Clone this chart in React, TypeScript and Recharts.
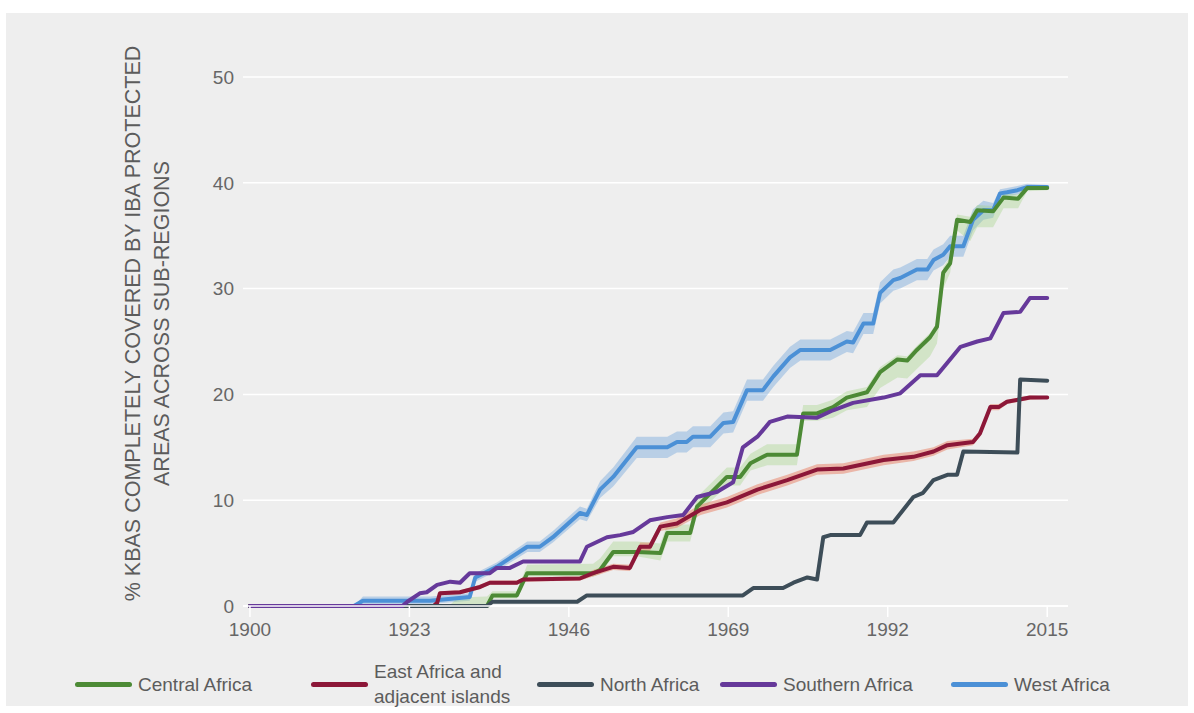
import React from 'react';
import { ComposedChart, Line, Area, XAxis, YAxis, CartesianGrid } from 'recharts';

// [year, value, band low, band high]
type BandPoint = [number, number, number, number];
type Point = [number, number];

const xTicks = [1900, 1923, 1946, 1969, 1992, 2015];
const yTicks = [0, 10, 20, 30, 40, 50];

const westAfrica: BandPoint[] = [
  [1900, 0, 0, 0], [1915, 0, 0, 0], [1916.3, 0.5, 0.2, 0.9], [1926, 0.5, 0.2, 0.9],
  [1931.7, 0.85, 0.5, 1.2], [1932.5, 2.7, 2.3, 3.1], [1935.6, 3.7, 3.3, 4.1], [1940, 5.6, 5.1, 6.1],
  [1941.8, 5.6, 5.1, 6.1], [1943.7, 6.5, 6.0, 7.1], [1947.6, 8.8, 8.2, 9.4], [1948.6, 8.6, 8.0, 9.2],
  [1950.5, 11, 10.2, 11.8], [1952.4, 12.2, 11.3, 13.1], [1955.8, 15.0, 14.0, 16.0], [1960.2, 15.0, 14.0, 16.0],
  [1961.6, 15.5, 14.5, 16.5], [1963, 15.5, 14.5, 16.5], [1963.9, 16.0, 15.0, 17.0], [1966.4, 16.0, 15.0, 17.0],
  [1968.3, 17.3, 16.3, 18.3], [1969.7, 17.4, 16.4, 18.4], [1971.7, 20.4, 19.4, 21.4], [1974, 20.4, 19.4, 21.4],
  [1975.5, 21.7, 20.7, 22.7], [1977.9, 23.5, 22.5, 24.5], [1979.4, 24.2, 23.2, 25.2], [1983.7, 24.2, 23.2, 25.2],
  [1986.1, 25.0, 24.0, 26.0], [1987, 24.9, 23.9, 25.9], [1988.5, 26.7, 25.7, 27.7], [1989.9, 26.7, 25.7, 27.7],
  [1990.9, 29.6, 28.6, 30.6], [1992.8, 30.8, 29.8, 31.8], [1993.8, 31.0, 30.0, 32.0], [1996.2, 31.8, 30.8, 32.8],
  [1997.7, 31.8, 30.8, 32.8], [1998.6, 32.7, 31.7, 33.7], [2000, 33.2, 32.2, 34.2], [2001, 34.0, 33.0, 35.0],
  [2002.9, 34.0, 33.0, 35.0], [2004.3, 36.5, 35.5, 37.5], [2005.8, 37.4, 36.5, 38.3], [2007.2, 37.4, 36.7, 38.1],
  [2008.2, 39.0, 38.6, 39.4], [2009.2, 39.1, 38.7, 39.5], [2010.7, 39.3, 38.9, 39.7], [2012.1, 39.6, 39.3, 39.9],
  [2015, 39.6, 39.4, 39.8],
];

const centralAfrica: BandPoint[] = [
  [1900, 0, 0, 0], [1929, 0, 0, 0.2], [1930, 0, 0, 0.8], [1934.2, 0, 0, 0.9], [1935, 1.0, 0.7, 1.4],
  [1938.5, 1.0, 0.7, 1.4], [1940, 3.1, 2.8, 3.9], [1949.5, 3.1, 2.8, 4.0], [1950.5, 3.4, 3.0, 4.5],
  [1952.4, 5.1, 4.7, 6.1], [1955.8, 5.1, 4.7, 6.1], [1959.2, 5.0, 4.3, 5.9], [1960.2, 6.9, 6.1, 7.7],
  [1963.5, 6.9, 6.1, 7.7], [1964.5, 9.4, 8.6, 10.3], [1968.8, 12.2, 11.4, 13.1], [1970.7, 12.2, 11.4, 13.1],
  [1972.2, 13.5, 12.8, 14.4], [1974.6, 14.3, 13.3, 15.3], [1978.9, 14.3, 13.3, 15.3], [1979.8, 18.2, 17.5, 19.0],
  [1981.8, 18.2, 17.5, 19.0], [1984.1, 18.8, 17.8, 19.5], [1986.1, 19.7, 18.5, 20.3], [1989, 20.2, 18.8, 20.7],
  [1990.9, 22.1, 20.6, 22.6], [1993.4, 23.3, 21.6, 23.7], [1994.8, 23.2, 21.5, 23.6], [1996.2, 24.2, 22.4, 24.6],
  [1998.1, 25.4, 23.6, 25.8], [1999.1, 26.4, 24.8, 26.8], [2000, 31.5, 30.0, 32.0], [2001, 32.4, 31.5, 33.0],
  [2002, 36.5, 35.5, 37.0], [2003.9, 36.3, 34.5, 36.8], [2004.9, 37.4, 35.8, 37.9], [2007.2, 37.3, 35.8, 37.8],
  [2008.7, 38.6, 37.6, 39.0], [2010.8, 38.5, 37.6, 38.9], [2012.1, 39.5, 39.2, 39.8], [2015, 39.5, 39.3, 39.7],
];

const eastAfrica: BandPoint[] = [
  [1900, 0, 0, 0], [1926.5, 0, 0, 0], [1927, 0.3, 0.1, 0.5], [1927.4, 1.2, 1.0, 1.4], [1930.3, 1.3, 1.1, 1.5],
  [1933.2, 1.8, 1.6, 2.0], [1934.6, 2.2, 2.0, 2.4], [1938.5, 2.2, 2.0, 2.4], [1939.4, 2.5, 2.3, 2.7],
  [1947.6, 2.6, 2.4, 2.8], [1949.5, 3.1, 2.8, 3.4], [1952.4, 3.7, 3.4, 4.0], [1954.8, 3.6, 3.3, 3.9],
  [1956.3, 5.6, 5.2, 6.0], [1957.7, 5.6, 5.2, 6.0], [1959.2, 7.5, 7.1, 7.9], [1961.6, 7.8, 7.4, 8.3],
  [1965, 9.1, 8.6, 9.6], [1968.8, 9.8, 9.3, 10.3], [1973.2, 11.0, 10.5, 11.5], [1977.5, 11.9, 11.4, 12.4],
  [1981.8, 12.9, 12.4, 13.4], [1985.6, 13.0, 12.5, 13.5], [1991.4, 13.8, 13.3, 14.3], [1995.7, 14.1, 13.7, 14.6],
  [1998.6, 14.6, 14.2, 15.0], [2000.6, 15.2, 14.8, 15.6], [2004.3, 15.5, 15.2, 15.8], [2005.3, 16.3, 16.0, 16.6],
  [2006.8, 18.8, 18.5, 19.1], [2008, 18.8, 18.5, 19.1], [2009.2, 19.3, 19.1, 19.5], [2012.5, 19.7, 19.5, 19.9],
  [2015, 19.7, 19.6, 19.8],
];

const northAfrica: Point[] = [
  [1900, 0], [1934.2, 0], [1935, 0.4], [1947.2, 0.4], [1948.6, 1.0], [1971.1, 1.0], [1972.6, 1.7],
  [1976.9, 1.7], [1978.4, 2.2], [1980.4, 2.7], [1981.8, 2.5], [1982.7, 6.5], [1983.7, 6.7], [1988, 6.7],
  [1989, 7.9], [1992.8, 7.9], [1995.7, 10.3], [1997.1, 10.7], [1998.6, 11.9], [2000.6, 12.4], [2002, 12.4],
  [2002.9, 14.6], [2010.7, 14.5], [2011.1, 21.4], [2015, 21.3],
];

const southernAfrica: Point[] = [
  [1900, 0], [1922, 0], [1922.7, 0.4], [1924.5, 1.2], [1925.5, 1.3], [1927, 2.0], [1928.9, 2.3],
  [1930.3, 2.2], [1931.7, 3.1], [1934.6, 3.1], [1935.6, 3.6], [1937.5, 3.6], [1939.4, 4.2], [1947.6, 4.2],
  [1948.6, 5.6], [1951.5, 6.5], [1953.4, 6.7], [1955.3, 7.0], [1957.7, 8.1], [1960.2, 8.4], [1962.5, 8.6],
  [1964.5, 10.3], [1967.4, 10.8], [1969.7, 11.7], [1971.1, 15.0], [1973.2, 16.0], [1975, 17.4],
  [1977.5, 17.9], [1981.8, 17.8], [1984.1, 18.5], [1987, 19.2], [1991.4, 19.7], [1993.8, 20.1],
  [1996.7, 21.8], [1999.1, 21.8], [2000.6, 23.0], [2002.5, 24.5], [2004.9, 25.0], [2006.8, 25.3],
  [2008.7, 27.7], [2011.1, 27.8], [2012.5, 29.1], [2015, 29.1],
];

const bandRows = (pts: BandPoint[]) =>
  pts.map(([year, value, lo, hi]) => ({ year, value, band: [lo, hi] }));
const lineRows = (pts: Point[]) => pts.map(([year, value]) => ({ year, value }));

const COLORS = {
  central: '#4c8a35',
  east: '#8c1738',
  north: '#3d4d58',
  southern: '#66399a',
  west: '#4b90d6',
};

const FONT = '"Liberation Sans", Arial, Helvetica, sans-serif';
const TEXT = '#5c5c5c';

const YTitle = (props: any) => {
  const { viewBox } = props;
  const cy = viewBox.y + viewBox.height / 2 - 18;
  const x1 = viewBox.x - 30;
  const x2 = viewBox.x - 1;
  return (
    <g fill={TEXT} fontSize={21.5} fontFamily={FONT}>
      <text x={x1} y={cy} textAnchor="middle" dominantBaseline="central" transform={`rotate(-90, ${x1}, ${cy})`}>
        % KBAS COMPLETELY COVERED BY IBA PROTECTED
      </text>
      <text x={x2} y={cy} textAnchor="middle" dominantBaseline="central" transform={`rotate(-90, ${x2}, ${cy})`}>
        AREAS ACROSS SUB-REGIONS
      </text>
    </g>
  );
};

const legendItems = [
  { lines: ['Central Africa'], color: COLORS.central, left: 69 },
  { lines: ['East Africa and', 'adjacent islands'], color: COLORS.east, left: 305 },
  { lines: ['North Africa'], color: COLORS.north, left: 531 },
  { lines: ['Southern Africa'], color: COLORS.southern, left: 714 },
  { lines: ['West Africa'], color: COLORS.west, left: 945 },
];

const ChartLegend = () => (
  <div style={{ position: 'absolute', left: 0, top: 648, width: '100%', height: 46 }}>
    {legendItems.map((item) => (
      <div
        key={item.lines[0]}
        style={{ position: 'absolute', left: item.left, top: 0, height: 46, display: 'flex', alignItems: 'center' }}
      >
        <div style={{ width: 57, height: 5, borderRadius: 3, background: item.color, marginRight: 6 }} />
        <div style={{ fontFamily: FONT, fontSize: 19, color: TEXT, lineHeight: '25px', whiteSpace: 'nowrap' }}>
          {item.lines.map((l) => (
            <div key={l}>{l}</div>
          ))}
        </div>
      </div>
    ))}
  </div>
);

export default function App() {
  const west = bandRows(westAfrica);
  const central = bandRows(centralAfrica);
  const east = bandRows(eastAfrica);
  const north = lineRows(northAfrica);
  const southern = lineRows(southernAfrica);

  const lineProps = {
    type: 'linear' as const,
    dataKey: 'value',
    strokeWidth: 4,
    dot: false,
    activeDot: false,
    isAnimationActive: false,
    strokeLinejoin: 'round' as const,
    strokeLinecap: 'round' as const,
  };

  return (
    <div style={{ position: 'absolute', left: 6, top: 13, width: 1182, height: 693, background: '#eeeeee' }}>
      <ComposedChart width={1182} height={693} margin={{ top: 64, right: 120, bottom: 60, left: 157 }}>
        <CartesianGrid vertical={false} stroke="#ffffff" strokeWidth={1.5} />
        <XAxis
          type="number"
          dataKey="year"
          domain={[1899, 2018]}
          ticks={xTicks}
          allowDataOverflow
          height={40}
          tickSize={11}
          tickMargin={6}
          axisLine={{ stroke: '#ffffff', strokeWidth: 1.5 }}
          tickLine={{ stroke: '#ffffff', strokeWidth: 1.5 }}
          tick={{ fill: '#666666', fontSize: 19, fontFamily: FONT }}
        />
        <YAxis
          type="number"
          domain={[0, 50]}
          ticks={yTicks}
          width={80}
          tickSize={6}
          tickMargin={3}
          axisLine={false}
          tickLine={false}
          tick={{ fill: '#666666', fontSize: 19, fontFamily: FONT }}
          label={<YTitle />}
        />
        <Area data={west} dataKey="band" type="linear" stroke="none" fill="#4b90d6" fillOpacity={0.32} isAnimationActive={false} activeDot={false} />
        <Area data={central} dataKey="band" type="linear" stroke="none" fill="#9fd07e" fillOpacity={0.35} isAnimationActive={false} activeDot={false} />
        <Area data={east} dataKey="band" type="linear" stroke="none" fill="#e77d62" fillOpacity={0.5} isAnimationActive={false} activeDot={false} />
        <Line {...lineProps} data={west} stroke={COLORS.west} name="West Africa" />
        <Line {...lineProps} data={central} stroke={COLORS.central} name="Central Africa" />
        <Line {...lineProps} data={east} stroke={COLORS.east} name="East Africa and adjacent islands" />
        <Line {...lineProps} data={north} stroke={COLORS.north} name="North Africa" />
        <Line {...lineProps} data={southern} stroke={COLORS.southern} name="Southern Africa" />
      </ComposedChart>
      <ChartLegend />
    </div>
  );
}
